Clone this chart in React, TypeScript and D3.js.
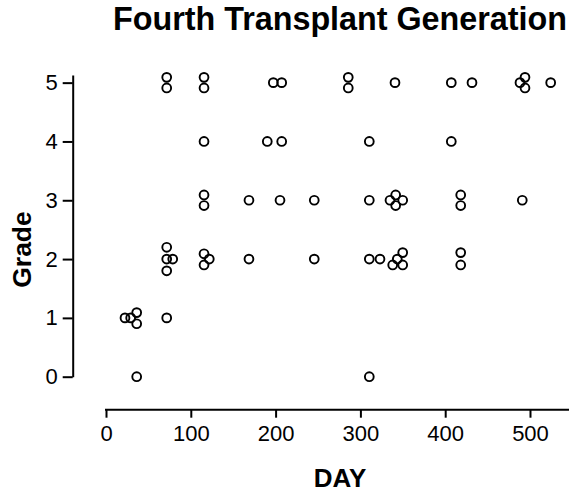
import React, { useEffect, useRef } from 'react';
import * as d3 from 'd3';

const days = [
  71.6, 71.6, 115.6, 115.6, 197.3, 207.2, 285.7, 285.7, 340.8, 407.2, 431.6, 494.1, 494.1, 488.2, 524.4,
  115.6, 190.2, 207.2, 310.5, 407.2,
  115.6, 115.6, 168.6, 205.2, 245.6, 310.5, 341.6, 341.6, 334.9, 349.9, 418.3, 418.3, 490.9,
  71.6, 71.6, 71.6, 78.7, 115.6, 115.6, 121.8, 168.6, 245.6, 310.5, 323.1, 349.9, 338.1, 349.9, 343.5, 418.3, 418.3,
  22.4, 29.1, 36.2, 36.2, 71.6,
  36.2, 310.5,
];
const grades = [
  5.09, 4.91, 5.09, 4.91, 5.0, 5.0, 5.09, 4.91, 5.0, 5.0, 5.0, 5.09, 4.91, 5.0, 5.0,
  4.0, 4.0, 4.0, 4.0, 4.0,
  3.09, 2.91, 3.0, 3.0, 3.0, 3.0, 3.09, 2.91, 3.0, 3.0, 3.09, 2.91, 3.0,
  2.2, 2.0, 1.8, 2.0, 2.09, 1.9, 2.0, 2.0, 2.0, 2.0, 2.0, 2.11, 1.9, 1.9, 2.0, 2.11, 1.9,
  1.0, 1.0, 1.09, 0.9, 1.0,
  0.0, 0.0,
];
const xTicks = [0, 100, 200, 300, 400, 500];
const yTicks = [0, 1, 2, 3, 4, 5];

const FONT = '"Liberation Sans", Arial, Helvetica, sans-serif';

const App = () => {
  const ref = useRef<SVGSVGElement>(null);

  useEffect(() => {
    const svg = d3.select(ref.current);
    svg.selectAll('*').remove();

    const x = d3.scaleLinear().domain([0, 546]).range([106, 569]);
    const y = d3.scaleLinear().domain([0, 5.13]).range([376.7, 75]);

    // x axis, detached from the y axis
    const gx = svg.append('g')
      .attr('transform', 'translate(0,409.7)')
      .call(d3.axisBottom(x).tickValues(xTicks).tickFormat(d3.format('d')).tickSize(8).tickSizeOuter(0).tickPadding(8));
    gx.selectAll('path, line').attr('stroke', '#000').attr('stroke-width', 2);
    gx.selectAll('text')
      .attr('fill', '#000')
      .style('font-family', FONT)
      .style('font-size', '22px');
    gx.select('.domain').remove();
    gx.append('line')
      .attr('x1', x(0) - 1).attr('x2', 569)
      .attr('stroke', '#000').attr('stroke-width', 2);

    const gy = svg.append('g')
      .attr('transform', 'translate(72.7,0)')
      .call(d3.axisLeft(y).tickValues(yTicks).tickFormat(d3.format('d')).tickSize(10).tickSizeOuter(0).tickPadding(5));
    gy.selectAll('path, line').attr('stroke', '#000').attr('stroke-width', 2);
    gy.selectAll('text')
      .attr('fill', '#000')
      .style('font-family', FONT)
      .style('font-size', '22px');

    // points
    svg.append('g')
      .selectAll('circle')
      .data(days.map((d, i) => ({ day: d, grade: grades[i] })))
      .join('circle')
      .attr('cx', d => x(d.day))
      .attr('cy', d => y(d.grade))
      .attr('r', 4.4)
      .attr('fill', 'none')
      .attr('stroke', '#000')
      .attr('stroke-width', 1.9);

    // titles
    svg.append('text')
      .attr('x', 340)
      .attr('y', 30)
      .attr('text-anchor', 'middle')
      .style('font-family', FONT)
      .style('font-weight', 'bold')
      .style('font-size', '32.3px')
      .text('Fourth Transplant Generation');

    svg.append('text')
      .attr('x', 340)
      .attr('y', 487)
      .attr('text-anchor', 'middle')
      .style('font-family', FONT)
      .style('font-weight', 'bold')
      .style('font-size', '26px')
      .text('DAY');

    svg.append('text')
      .attr('transform', 'translate(31,249.5) rotate(-90)')
      .attr('text-anchor', 'middle')
      .style('font-family', FONT)
      .style('font-weight', 'bold')
      .style('font-size', '26.5px')
      .text('Grade');
  }, []);

  return (
    <svg
      ref={ref}
      width={569}
      height={492}
      style={{ position: 'absolute', left: 0, top: 0, background: '#fff' }}
    />
  );
};

export default App;
